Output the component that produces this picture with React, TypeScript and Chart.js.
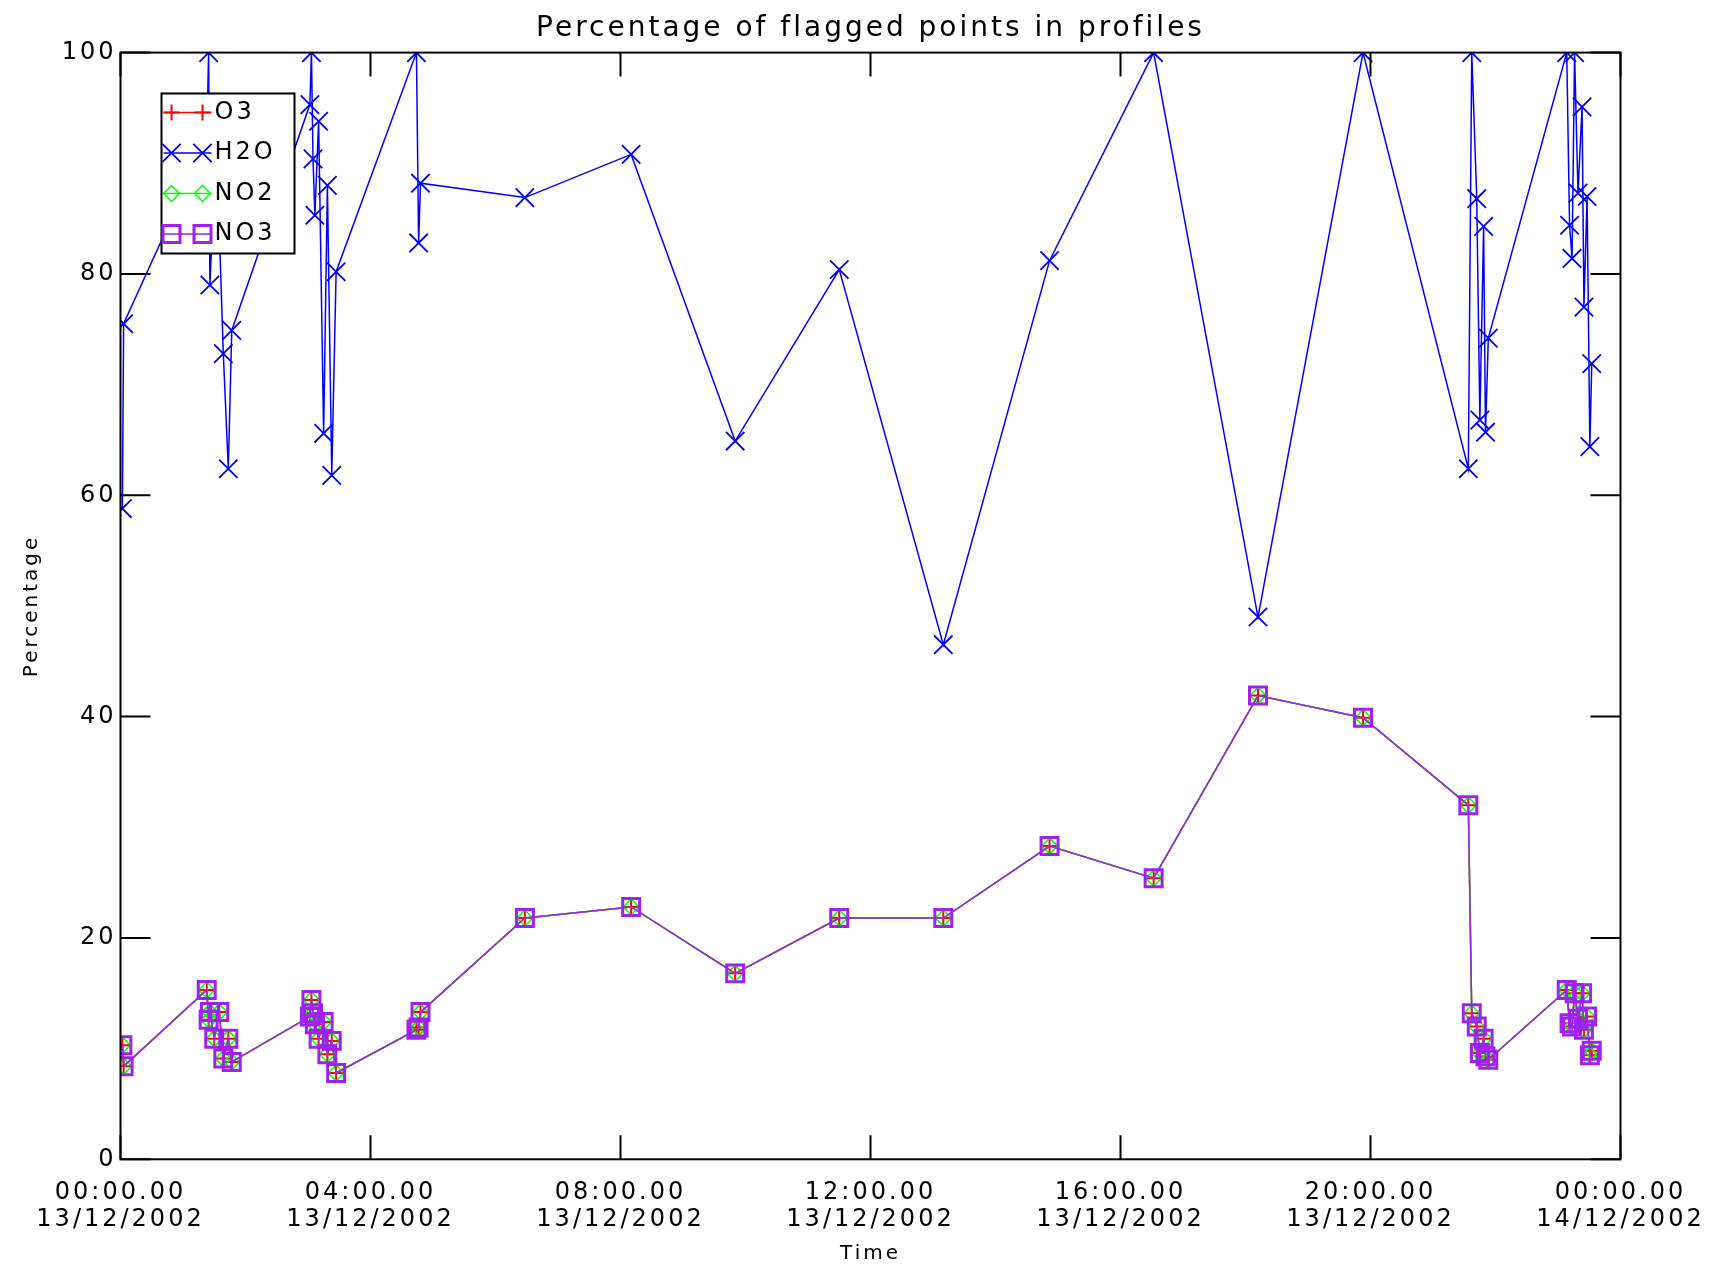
import React, { useEffect, useRef } from 'react';
import { Chart, registerables } from 'chart.js';
import { drawPoint } from 'chart.js/helpers';

Chart.register(...registerables);

// ---------- data ----------
const chartTitle = 'Percentage of flagged points in profiles';
const xAxisTitle = 'Time';
const yAxisTitle = 'Percentage';

const tickTimes = ['00:00.00', '04:00.00', '08:00.00', '12:00.00', '16:00.00', '20:00.00', '00:00.00'];
const tickDates = ['13/12/2002', '13/12/2002', '13/12/2002', '13/12/2002', '13/12/2002', '13/12/2002', '14/12/2002'];

// profile times, hours since 00:00 13/12/2002
const timesHours = [
  0.03, 0.05,
  1.38, 1.41, 1.43, 1.5, 1.58, 1.645, 1.725, 1.78,
  3.03, 3.055, 3.08, 3.11, 3.17, 3.25, 3.31, 3.38, 3.45,
  4.735, 4.77, 4.8,
  6.47, 8.17, 9.835, 11.5, 13.165, 14.865, 16.53, 18.2, 19.88,
  21.565, 21.62, 21.7, 21.75, 21.81, 21.84, 21.885,
  23.14, 23.185, 23.225, 23.265, 23.32, 23.385, 23.415, 23.465, 23.51, 23.54,
];

const h2oValues = [
  58.8, 75.5,
  92.0, 100, 79.0, 88.0, 84.0, 72.8, 62.4, 74.9,
  95.3, 100, 90.4, 85.3, 93.8, 65.6, 88.0, 61.8, 80.2,
  100, 82.8, 88.2,
  86.9, 90.8, 64.9, 80.4, 46.5, 81.2, 100, 49.0, 100,
  62.4, 100, 86.8, 66.8, 84.3, 65.7, 74.2,
  100, 84.4, 81.4, 100, 87.3, 95.1, 77.0, 87.0, 64.4, 71.9,
];

const o3Values = [
  10.3, 8.4,
  15.3, 12.6, 13.3, 10.9, 13.3, 9.1, 10.9, 8.8,
  12.9, 14.4, 13.2, 12.2, 10.9, 12.4, 9.5, 10.7, 7.8,
  11.7, 11.9, 13.3,
  21.8, 22.8, 16.8, 21.8, 21.8, 28.3, 25.4, 41.9, 39.9,
  32.0, 13.2, 12.0, 9.6, 10.9, 9.3, 9.0,
  15.3, 12.3, 12.0, 15.0, 12.7, 15.0, 11.7, 12.9, 9.4, 9.8,
];

const no2Values = [
  10.3, 8.4,
  15.3, 12.6, 13.3, 10.9, 13.3, 9.1, 10.9, 8.8,
  12.9, 14.4, 13.2, 12.2, 10.9, 12.4, 9.5, 10.7, 7.8,
  11.7, 11.9, 13.3,
  21.8, 22.8, 16.8, 21.8, 21.8, 28.3, 25.4, 41.9, 39.9,
  32.0, 13.2, 12.0, 9.6, 10.9, 9.3, 9.0,
  15.3, 12.3, 12.0, 15.0, 12.7, 15.0, 11.7, 12.9, 9.4, 9.8,
];

const no3Values = [
  10.3, 8.4,
  15.3, 12.6, 13.3, 10.9, 13.3, 9.1, 10.9, 8.8,
  12.9, 14.4, 13.2, 12.2, 10.9, 12.4, 9.5, 10.7, 7.8,
  11.7, 11.9, 13.3,
  21.8, 22.8, 16.8, 21.8, 21.8, 28.3, 25.4, 41.9, 39.9,
  32.0, 13.2, 12.0, 9.6, 10.9, 9.3, 9.0,
  15.3, 12.3, 12.0, 15.0, 12.7, 15.0, 11.7, 12.9, 9.4, 9.8,
];

const seriesNames = ['O3', 'H2O', 'NO2', 'NO3'];

// ---------- styling ----------
const FONT = '"DejaVu Sans", "Liberation Sans", sans-serif';
const LETTER_SPACING = '3px';
const W = 1718;
const H = 1272;

const toPoints = (vals: number[]) => timesHours.map((t, i) => ({ x: t, y: vals[i] }));

const spacingPlugin = {
  id: 'letterSpacing',
  beforeLayout(chart: any) {
    chart.ctx.letterSpacing = LETTER_SPACING;
  },
  beforeDraw(chart: any) {
    chart.ctx.letterSpacing = LETTER_SPACING;
  },
};

const framePlugin = {
  id: 'frame',
  afterDraw(chart: any) {
    const { ctx, chartArea: a, scales } = chart;
    ctx.save();
    ctx.strokeStyle = '#000';
    ctx.lineWidth = 2;
    ctx.strokeRect(a.left, a.top, a.right - a.left, a.bottom - a.top);
    ctx.beginPath();
    scales.y.ticks.forEach((t: any) => {
      const y = scales.y.getPixelForValue(t.value);
      ctx.moveTo(a.left, y);
      ctx.lineTo(a.left + 30, y);
      ctx.moveTo(a.right, y);
      ctx.lineTo(a.right - 30, y);
    });
    scales.x.ticks.forEach((t: any) => {
      const x = scales.x.getPixelForValue(t.value);
      ctx.moveTo(x, a.bottom);
      ctx.lineTo(x, a.bottom - 24);
      ctx.moveTo(x, a.top);
      ctx.lineTo(x, a.top + 24);
    });
    ctx.stroke();
    ctx.restore();
  },
};

const legendPlugin = {
  id: 'boxLegend',
  afterDatasetsDraw(chart: any) {
    const ctx = chart.ctx;
    const L = 161.5;
    const T = 93.5;
    const BW = 133;
    const BH = 160;
    ctx.save();
    ctx.letterSpacing = LETTER_SPACING;
    ctx.fillStyle = '#fff';
    ctx.fillRect(L, T, BW, BH);
    ctx.strokeStyle = '#000';
    ctx.lineWidth = 2;
    ctx.strokeRect(L, T, BW, BH);
    chart.data.datasets.forEach((ds: any, i: number) => {
      const y = T + 19 + i * 40.5;
      ctx.strokeStyle = ds.borderColor;
      ctx.lineWidth = 1.5;
      ctx.beginPath();
      ctx.moveTo(L + 2, y);
      ctx.lineTo(L + 50, y);
      ctx.stroke();
      const opts = {
        pointStyle: ds.pointStyle,
        radius: ds.pointRadius,
        rotation: 0,
        borderWidth: ds.pointBorderWidth,
      };
      ctx.strokeStyle = ds.pointBorderColor;
      ctx.fillStyle = 'rgba(0,0,0,0)';
      ctx.lineWidth = ds.pointBorderWidth;
      drawPoint(ctx, opts, L + 10, y);
      drawPoint(ctx, opts, L + 41, y);
      ctx.fillStyle = '#000';
      ctx.font = `24px ${FONT}`;
      ctx.textBaseline = 'middle';
      ctx.textAlign = 'left';
      ctx.fillText(ds.label, L + 53, y);
    });
    ctx.restore();
  },
};

export default function App() {
  const ref = useRef<HTMLCanvasElement>(null);

  useEffect(() => {
    const canvas = ref.current;
    if (!canvas) return;
    Chart.defaults.color = '#000';
    Chart.defaults.font.family = FONT;

    const chart = new Chart(canvas, {
      type: 'line',
      data: {
        datasets: [
          {
            label: seriesNames[0],
            data: toPoints(o3Values),
            borderColor: '#ff0000',
            backgroundColor: 'rgba(0,0,0,0)',
            borderWidth: 1.5,
            pointStyle: 'cross',
            pointRadius: 8,
            pointBorderWidth: 2,
            pointBorderColor: '#ff0000',
            pointBackgroundColor: 'rgba(0,0,0,0)',
            order: 3,
          },
          {
            label: seriesNames[1],
            data: toPoints(h2oValues),
            borderColor: '#0000ff',
            backgroundColor: 'rgba(0,0,0,0)',
            borderWidth: 1.5,
            pointStyle: 'crossRot',
            pointRadius: 13,
            pointBorderWidth: 1.8,
            pointBorderColor: '#0000ff',
            pointBackgroundColor: 'rgba(0,0,0,0)',
            order: 2,
          },
          {
            label: seriesNames[2],
            data: toPoints(no2Values),
            borderColor: '#00ff00',
            backgroundColor: 'rgba(0,0,0,0)',
            borderWidth: 1.5,
            pointStyle: 'rectRot',
            pointRadius: 8,
            pointBorderWidth: 1.5,
            pointBorderColor: '#00ff00',
            pointBackgroundColor: 'rgba(0,0,0,0)',
            order: 1,
          },
          {
            label: seriesNames[3],
            data: toPoints(no3Values),
            borderColor: '#a020f0',
            backgroundColor: 'rgba(0,0,0,0)',
            borderWidth: 1.5,
            pointStyle: 'rect',
            pointRadius: 12,
            pointBorderWidth: 3,
            pointBorderColor: '#a020f0',
            pointBackgroundColor: 'rgba(0,0,0,0)',
            order: 0,
          },
        ],
      },
      options: {
        responsive: false,
        animation: false,
        devicePixelRatio: 1,
        events: [],
        layout: { padding: { left: 0, right: 97.5, top: 0, bottom: 0 } },
        elements: { line: { tension: 0 } },
        plugins: {
          legend: { display: false },
          tooltip: { enabled: false },
          title: {
            display: true,
            text: chartTitle,
            fullSize: false,
            color: '#000',
            font: { family: FONT, size: 28, weight: 'normal', lineHeight: 1.2 },
            padding: { top: 11.6, bottom: 7.4 },
          },
        },
        scales: {
          x: {
            type: 'linear',
            position: 'bottom',
            min: 0,
            max: 24,
            grid: { display: false, drawTicks: false },
            border: { display: false },
            ticks: {
              stepSize: 4,
              autoSkip: false,
              maxRotation: 0,
              minRotation: 0,
              padding: 20.5,
              color: '#000',
              font: { family: FONT, size: 24, lineHeight: 1.1 },
              callback: (_v: any, i: number) => [tickTimes[i], tickDates[i]],
            },
            title: {
              display: true,
              text: xAxisTitle,
              color: '#000',
              font: { family: FONT, size: 20, lineHeight: 1.2 },
              padding: { top: 0, bottom: 6 },
            },
            afterFit: (scale: any) => {
              scale.height = 112.7;
              scale.paddingLeft = 0;
              scale.paddingRight = 0;
            },
          },
          y: {
            type: 'linear',
            position: 'left',
            min: 0,
            max: 100,
            grid: { display: false, drawTicks: false },
            border: { display: false },
            ticks: {
              stepSize: 20,
              padding: 4,
              color: '#000',
              font: { family: FONT, size: 24 },
            },
            title: {
              display: true,
              text: yAxisTitle,
              color: '#000',
              font: { family: FONT, size: 20, lineHeight: 1.2 },
              padding: { top: 20, bottom: 0 },
            },
            afterFit: (scale: any) => {
              scale.width = 120.5;
              scale.paddingTop = 0;
              scale.paddingBottom = 0;
            },
          },
        },
      },
      plugins: [spacingPlugin, legendPlugin, framePlugin],
    } as any);

    return () => chart.destroy();
  }, []);

  return (
    <div style={{ position: 'absolute', left: 0, top: 0, width: W, height: H, background: '#fff' }}>
      <canvas ref={ref} width={W} height={H} style={{ display: 'block', width: W, height: H }} />
    </div>
  );
}
